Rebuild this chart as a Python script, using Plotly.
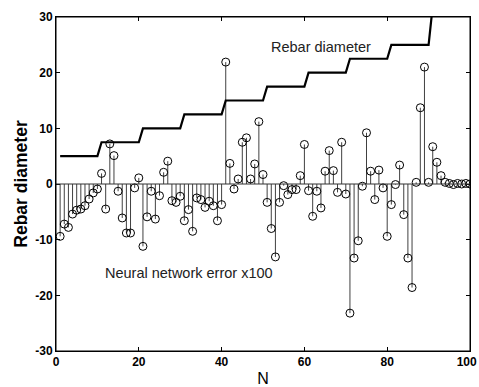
import plotly.graph_objects as go

n = list(range(1, 101))
error_x100 = [
    -9.4, -7.2, -7.8, -5.4, -4.7, -4.5, -3.9, -2.7, -1.6, -0.9,
    1.9, -4.5, 7.2, 5.1, -1.3, -6.1, -8.8, -8.8, -0.7, 1.1,
    -11.2, -5.9, -1.3, -6.3, -2.1, 2.1, 4.1, -3.0, -3.3, -2.2,
    -6.6, -4.6, -8.5, -2.5, -2.8, -4.2, -3.1, -3.9, -6.6, -3.7,
    21.9, 3.7, -0.9, 0.9, 7.5, 8.3, 0.9, 3.6, 11.2, 1.7,
    -3.3, -8.0, -13.1, -3.3, -0.3, -1.9, -1.0, -1.0, 1.5, 7.1,
    -1.2, -5.8, -1.3, -4.3, 2.3, 6.0, 2.4, -1.5, 7.5, -1.8,
    -23.2, -13.3, -10.2, -0.4, 9.2, 2.3, -2.8, 2.5, -0.7, -9.4,
    -3.7, -0.1, 3.4, -5.5, -13.3, -18.6, 0.3, 13.7, 21.0, 0.3,
    6.7, 3.9, 1.5, 0.3, 0.1, -0.1, 0.1, 0.0, 0.1, 0.0,
]
rebar_levels = [5, 7.5, 10, 12.5, 15, 17.5, 20, 22.5, 25, 32]
rebar_diameter = [rebar_levels[(i - 1) // 10] for i in n]

xt = [0, 20, 40, 60, 80, 100]
xt_labels = ["0", "20", "40", "60", "80", "100&nbsp;&nbsp;"]
yt = [-30, -20, -10, 0, 10, 20, 30]

# stems built from data
sx, sy = [], []
for xi, yi in zip(n, error_x100):
    sx += [xi, xi, None]
    sy += [0, yi, None]

fig = go.Figure()
fig.add_hline(y=0, line=dict(color="#333333", width=1))
fig.add_trace(go.Scatter(x=sx, y=sy, mode="lines",
                         line=dict(color="#404040", width=1), hoverinfo="skip"))
fig.add_trace(go.Scatter(x=n, y=error_x100, mode="markers",
                         marker=dict(symbol="circle-open", size=8,
                                     color="black", line=dict(width=1))))
fig.add_trace(go.Scatter(x=n, y=rebar_diameter, mode="lines",
                         line=dict(color="black", width=2.2)))
fig.add_shape(type="rect", xref="paper", yref="paper", x0=0, x1=1, y0=0, y1=1,
              line=dict(color="black", width=1), layer="above")

fig.add_annotation(x=0.640, y=0.910, xref="paper", yref="paper",
                   xanchor="center", yanchor="middle",
                   text="Rebar diameter", showarrow=False,
                   font=dict(size=14.5, color="#222222", family="Liberation Sans, Arial"))
fig.add_annotation(x=0.321, y=0.234, xref="paper", yref="paper",
                   xanchor="center", yanchor="middle",
                   text="Neural network error x100", showarrow=False,
                   font=dict(size=14.5, color="#222222", family="Liberation Sans, Arial"))

axis_common = dict(showgrid=False, zeroline=False, showline=True, linecolor="black",
                   linewidth=1, mirror="ticks", ticks="inside", ticklen=4,
                   tickcolor="black", automargin=False, ticklabeloverflow="allow",
                   tickfont=dict(size=12, color="black", family="Liberation Sans, Arial"))

fig.update_layout(
    width=479, height=387,
    margin=dict(l=56, r=9, t=17, b=36, autoexpand=False),
    paper_bgcolor="white", plot_bgcolor="white",
    showlegend=False,
    font=dict(family="Liberation Sans, Arial", color="black"),
    xaxis=dict(range=[0, 100], tickvals=xt, ticktext=[f"<b>{v}</b>" for v in xt_labels],
               title=dict(text="N", font=dict(size=16), standoff=4), **axis_common),
    yaxis=dict(range=[-30, 30], tickvals=yt, ticktext=[f"<b>{v}</b>" for v in yt],
               title=dict(text="<b>Rebar diameter</b>", font=dict(size=17.5), standoff=3),
               **axis_common),
)
fig.write_html("out.html", config={"displayModeBar": False},
               post_script="document.body.style.margin='0';document.body.style.overflow='hidden';")
